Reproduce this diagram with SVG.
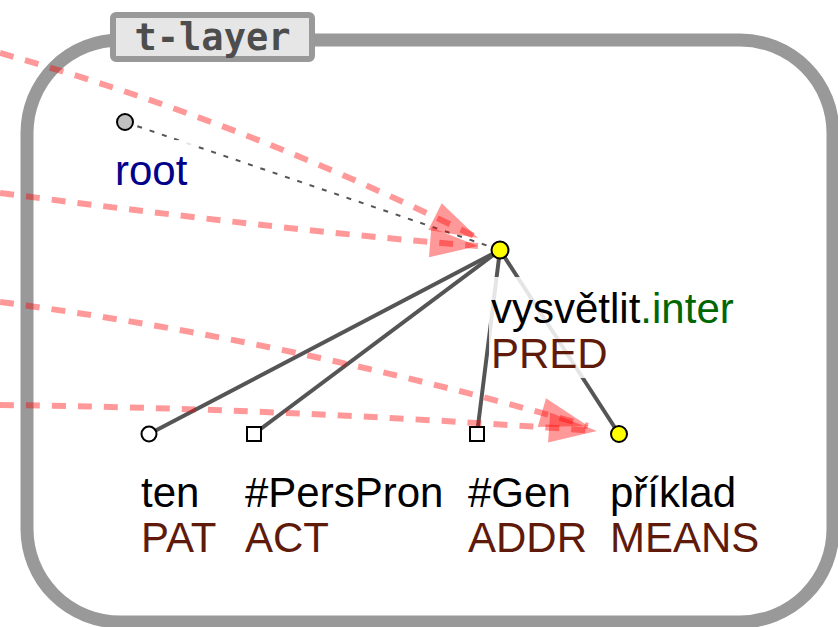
<svg xmlns="http://www.w3.org/2000/svg" width="838" height="627" viewBox="0 0 838 627">
<style>
.lbl{font-family:"Liberation Sans",Arial,sans-serif;font-size:42px}
.fn{fill:#601a0a}
.edge{stroke:#555;stroke-width:4;fill:none}
.bg{fill:#fff;fill-opacity:0.85}
.nd{stroke:#000;stroke-width:2}
.arr{fill:none;stroke:#f00;stroke-opacity:0.4;stroke-width:6;stroke-dasharray:14 12}
</style>
<defs>
<marker id="ah" markerUnits="userSpaceOnUse" markerWidth="50" markerHeight="32" refX="48" refY="15" orient="auto" overflow="visible">
<path d="M0,0 L48,15 L0,30 z" fill="#f00" fill-opacity="0.4"/>
</marker>
</defs>
<rect width="838" height="627" fill="#fff"/>
<g id="frame">
<rect x="27" y="40" width="806" height="582" rx="93" ry="93" fill="none" stroke="#999" stroke-width="13"/>
<rect x="113" y="15" width="199" height="44" rx="3" fill="#e6e6e6" stroke="#999" stroke-width="6"/>
<text x="212.5" y="50" text-anchor="middle" font-family="'DejaVu Sans Mono',monospace" font-weight="bold" font-size="37" fill="#4d4d4d">t-layer</text>
</g>
<g id="connectors">
<path class="edge" d="M500,250 L149,434"/>
<path class="edge" d="M500,250 L254,434"/>
<path class="edge" d="M500,250 L477,434"/>
<path class="edge" d="M500,250 L619,434"/>
<path d="M125,122 L500,250" stroke="#555" stroke-width="2" stroke-dasharray="5 8" fill="none"/>
</g>
<g id="label-backgrounds">
<rect class="bg" x="114" y="140" width="80" height="54"/>
<rect class="bg" x="489" y="277" width="250" height="101"/>
</g>
<g id="n-root">
<circle class="nd" cx="125" cy="122" r="8" fill="#c0c0c0"/>
<text class="lbl" x="115" y="185" fill="#00008b">root</text>
</g>
<g id="n-vysvetlit">
<circle class="nd" cx="500" cy="250" r="8.5" fill="#ff0"/>
<text class="lbl" x="491" y="323">vysvětlit<tspan fill="#006600">.inter</tspan></text>
<text class="lbl fn" x="491" y="368">PRED</text>
</g>
<g id="n-ten">
<circle class="nd" cx="149" cy="434" r="7.5" fill="#fff"/>
<text class="lbl" x="141" y="507">ten</text>
<text class="lbl fn" x="141" y="552">PAT</text>
</g>
<g id="n-perspron">
<rect class="nd" x="247" y="427" width="14" height="14" fill="#fff"/>
<text class="lbl" x="245" y="507">#PersPron</text>
<text class="lbl fn" x="245" y="552">ACT</text>
</g>
<g id="n-gen">
<rect class="nd" x="470" y="427" width="14" height="14" fill="#fff"/>
<text class="lbl" x="468" y="507">#Gen</text>
<text class="lbl fn" x="468" y="552">ADDR</text>
</g>
<g id="n-priklad">
<circle class="nd" cx="619" cy="434" r="8" fill="#ff0"/>
<text class="lbl" x="610" y="507">příklad</text>
<text class="lbl fn" x="610" y="552">MEANS</text>
</g>
<g id="arrows">
<path class="arr" d="M0,53 Q245,122 478,238" marker-end="url(#ah)"/>
<path class="arr" d="M0,193 Q308,233 478,246" marker-end="url(#ah)"/>
<path class="arr" d="M0,302 Q290,340 588,426" marker-end="url(#ah)"/>
<path class="arr" d="M0,405 Q277,408 597,431" marker-end="url(#ah)"/>
</g>
</svg>
